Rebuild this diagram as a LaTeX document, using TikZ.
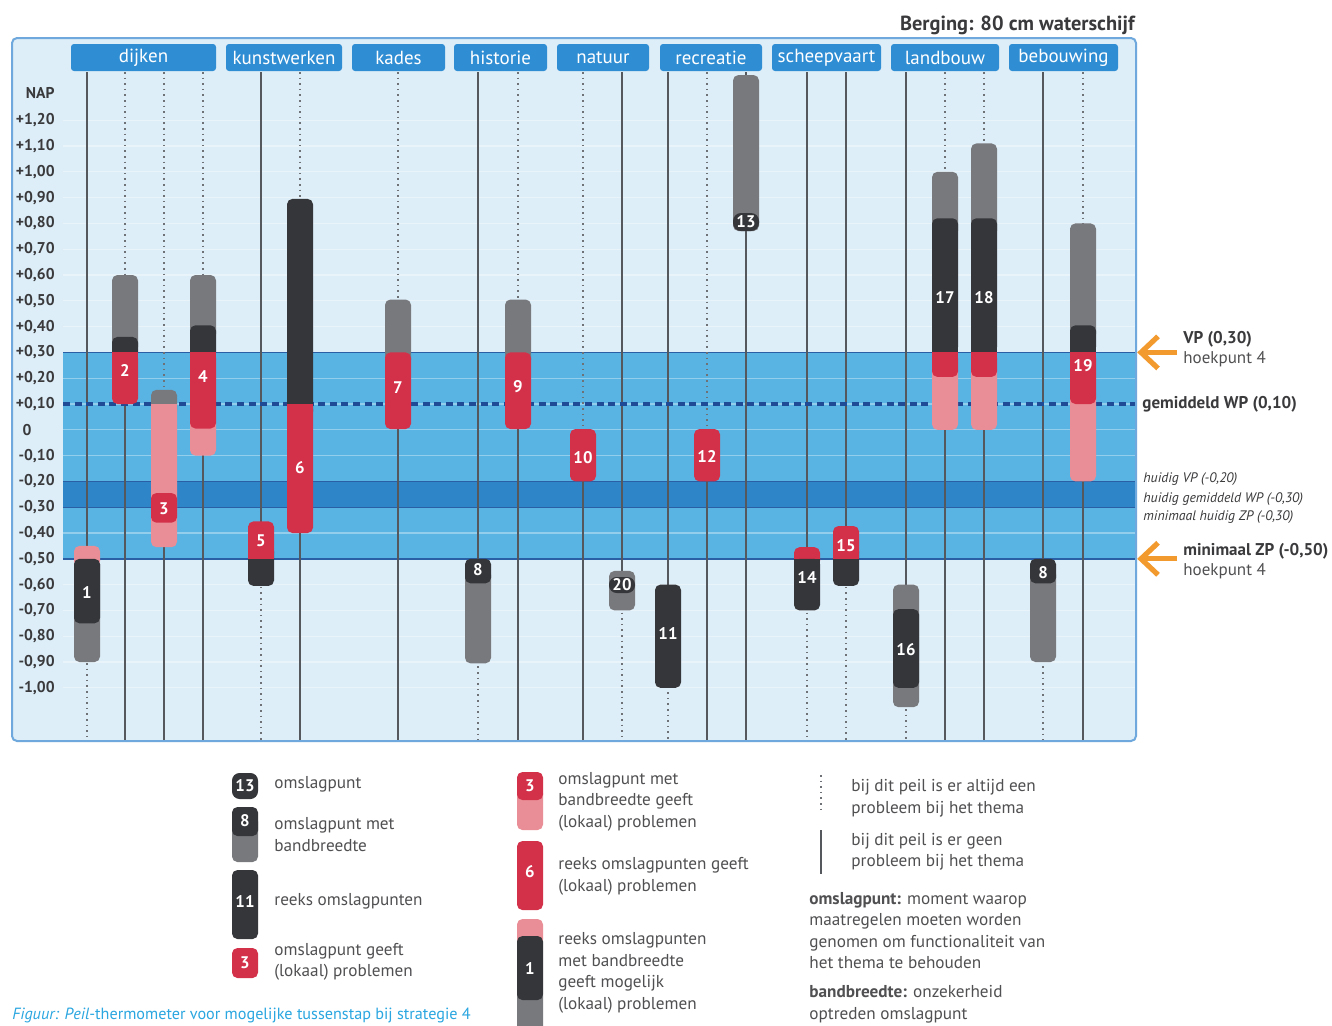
\documentclass[tikz,border=0pt]{standalone}
\usepackage{fontspec}
\setmainfont{PT Sans}
\definecolor{bgl}{HTML}{DDEEF8}
\definecolor{framec}{HTML}{6FA8DC}
\definecolor{tabc}{HTML}{2F8DD3}
\definecolor{bandm}{HTML}{5AB4E3}
\definecolor{bandd}{HTML}{2E86C8}
\definecolor{bandline}{HTML}{2A5FA6}
\definecolor{wpline}{HTML}{1E4A96}
\definecolor{redc}{HTML}{D3304A}
\definecolor{pinkc}{HTML}{E98E96}
\definecolor{darkc}{HTML}{35363A}
\definecolor{grayc}{HTML}{78797D}
\definecolor{linec}{HTML}{55585D}
\definecolor{txt}{HTML}{3A3A3C}
\definecolor{txtl}{HTML}{505052}
\definecolor{orng}{HTML}{F39A2E}
\definecolor{capc}{HTML}{2AA6E0}
\newcommand\vy[1]{429.8-258*(#1)}
\newcommand\sg[6]{%
  \fill[#4, rounded corners=2.7pt] ({#1-13},{\vy{#2}}) rectangle ({#1+13},{\vy{#3}});
  \ifnum#5=1 \fill[#4] ({#1-13},{\vy{#2}}) rectangle ({#1+13},{\vy{((#2)+(#3))/2}});\fi
  \ifnum#6=1 \fill[#4] ({#1-13},{\vy{((#2)+(#3))/2}}) rectangle ({#1+13},{\vy{#3}});\fi}
\newcommand\colln[4]{\draw[#2] (#1,72) -- (#1,{\vy{#4}}); \draw[#3] (#1,{\vy{#4}}) -- (#1,740);}
\newcommand\lgbar[4]{\fill[#4, rounded corners=2.7pt] ({#1-13},#2) rectangle ({#1+13},#3);}
\begin{document}
\begin{tikzpicture}[x=0.5pt,y=-0.5pt,
  tab/.style={fill=tabc, rounded corners=1.5pt, text=white, font=\fontsize{9.5}{10}\selectfont, minimum height=13.5pt, inner sep=0pt},
  ax/.style={font=\bfseries\fontsize{7.8}{9}\selectfont, text=txt, inner sep=0pt, anchor=east},
  num/.style={font=\bfseries\fontsize{8.4}{9}\selectfont, text=white, inner sep=0pt},
  sol/.style={draw=linec, line width=0.6pt},
  dotl/.style={draw=linec!85, line width=0.75pt, dash pattern=on 0.8pt off 2pt},
  leg/.style={font=\fontsize{8.6}{10.75}\selectfont, text=txtl, align=left, anchor=west, inner sep=0pt},
  rlab/.style={font=\bfseries\fontsize{8.5}{10}\selectfont, text=txt, anchor=west, inner sep=0pt},
  rsub/.style={font=\fontsize{8.5}{10}\selectfont, text=txtl, anchor=west, inner sep=0pt},
  ilab/.style={font=\itshape\fontsize{6.9}{8}\selectfont, text=txt, anchor=west, inner sep=0pt},
  oarrow/.style={draw=orng, line width=2.6pt},
]
\useasboundingbox (0,0) rectangle (1332,1025);
\fill[white] (0,0) rectangle (1332,1025);

% chart background and bands
\fill[bgl, rounded corners=2.5pt] (12,38) rectangle (1136,741);
\fill[bandm] (63,{\vy{0.3}}) rectangle (1135,{\vy{-0.5}});
\fill[bandd] (63,{\vy{-0.2}}) rectangle (1135,{\vy{-0.3}});
\foreach \k in {-10,...,12} \draw[white, opacity=0.35, line width=0.6pt] (63,{\vy{\k/10}}) -- (1135,{\vy{\k/10}});
\foreach \v in {0.3,-0.5} \draw[bandline, line width=0.7pt] (63,{\vy{\v}}) -- (1135,{\vy{\v}});
\foreach \v in {-0.2,-0.3} \draw[bandline, line width=0.5pt] (63,{\vy{\v}}) -- (1135,{\vy{\v}});

% axis labels
\node[ax] (nap) at (55,93) {NAP};
\foreach \v/\t [count=\i] in {1.2/{+1,20},1.1/{+1,10},1.0/{+1,00},0.9/{+0,90},0.8/{+0,80},0.7/{+0,70},0.6/{+0,60},0.5/{+0,50},0.4/{+0,40},0.3/{+0,30},0.2/{+0,20},0.1/{+0,10}}
  \node[ax] (axp\i) at (55,{\vy{\v}}) {\t};
\node[ax, anchor=center] (ax0) at (27,{\vy{0}}) {0};
\foreach \v/\t [count=\i] in {-0.1/{-0,10},-0.2/{-0,20},-0.3/{-0,30},-0.4/{-0,40},-0.5/{-0,50},-0.6/{-0,60},-0.7/{-0,70},-0.8/{-0,80},-0.9/{-0,90},-1.0/{-1,00}}
  \node[ax] (axm\i) at (55,{\vy{\v}}) {\t};

% column lines
\colln{87}{sol}{dotl}{-0.6}
\colln{125}{dotl}{sol}{0.3}
\colln{164}{dotl}{sol}{0.0}
\colln{203}{dotl}{sol}{0.2}
\colln{261}{sol}{dotl}{-0.5}
\colln{300}{dotl}{sol}{0.2}
\colln{398}{dotl}{sol}{0.2}
\colln{478}{sol}{dotl}{-0.7}
\colln{518}{dotl}{sol}{0.2}
\colln{583}{dotl}{sol}{-0.1}
\colln{622}{sol}{dotl}{-0.6}
\colln{668}{sol}{dotl}{-0.8}
\colln{707}{dotl}{sol}{-0.1}
\colln{746}{sol}{sol}{1.0}
\colln{807}{sol}{dotl}{-0.6}
\colln{846}{sol}{dotl}{-0.5}
\colln{906}{sol}{dotl}{-0.8}
\colln{945}{dotl}{sol}{0.5}
\colln{984}{dotl}{sol}{0.5}
\colln{1043}{sol}{dotl}{-0.7}
\colln{1083}{dotl}{sol}{0.3}

% WP line
\draw[wpline, line width=2pt, dash pattern=on 3.5pt off 2.3pt] (63,{\vy{0.1}}) -- (1135,{\vy{0.1}});

% bars
\sg{87}{-0.50}{-0.90}{grayc}{0}{0}
\sg{87}{-0.45}{-0.53}{pinkc}{0}{0}
\sg{87}{-0.50}{-0.75}{darkc}{0}{0}
\node[num] (b1) at (87,{\vy{-0.63}}) {1};

\sg{125}{0.60}{0.30}{grayc}{0}{0}
\sg{125}{0.36}{0.28}{darkc}{0}{0}
\sg{125}{0.30}{0.10}{redc}{1}{0}
\node[num] (b2) at (125,{\vy{0.228}}) {2};

\sg{164}{0.155}{0.05}{grayc}{0}{0}
\sg{164}{0.10}{-0.455}{pinkc}{1}{0}
\sg{164}{-0.245}{-0.36}{redc}{0}{0}
\node[num] (b3) at (164,{\vy{-0.305}}) {3};

\sg{203}{0.60}{0.35}{grayc}{0}{0}
\sg{203}{0.05}{-0.10}{pinkc}{0}{0}
\sg{203}{0.405}{0.28}{darkc}{0}{0}
\sg{203}{0.30}{0.005}{redc}{1}{0}
\node[num] (b4) at (203,{\vy{0.205}}) {4};

\sg{261}{-0.45}{-0.605}{darkc}{0}{0}
\sg{261}{-0.355}{-0.50}{redc}{0}{1}
\node[num] (b5) at (261,{\vy{-0.43}}) {5};

\sg{300}{0.895}{0.05}{darkc}{0}{0}
\sg{300}{0.10}{-0.40}{redc}{1}{0}
\node[num] (b6) at (300,{\vy{-0.148}}) {6};

\sg{398}{0.505}{0.25}{grayc}{0}{0}
\sg{398}{0.30}{0.003}{redc}{0}{0}
\node[num] (b7) at (398,{\vy{0.162}}) {7};

\sg{478}{-0.54}{-0.905}{grayc}{0}{0}
\sg{478}{-0.50}{-0.595}{darkc}{0}{0}
\node[num] (b8) at (478,{\vy{-0.543}}) {8};

\sg{518}{0.505}{0.25}{grayc}{0}{0}
\sg{518}{0.30}{0.003}{redc}{0}{0}
\node[num] (b9) at (518,{\vy{0.166}}) {9};

\sg{583}{0.003}{-0.20}{redc}{0}{0}
\node[num] (b10) at (583,{\vy{-0.109}}) {10};

\sg{622}{-0.547}{-0.70}{grayc}{0}{0}
\fill[darkc, rounded corners=3.8pt] (609,577) rectangle (635,593);
\node[num] (b20) at (622,585) {20};

\sg{668}{-0.60}{-1.00}{darkc}{0}{0}
\node[num] (b11) at (668,{\vy{-0.79}}) {11};

\sg{707}{0.003}{-0.20}{redc}{0}{0}
\node[num] (b12) at (707,{\vy{-0.105}}) {12};

\sg{746}{1.375}{0.7705}{grayc}{0}{0}
\fill[darkc, rounded corners=4pt] (733,213) rectangle (759,231);
\node[num] (b13) at (746,222) {13};

\sg{807}{-0.455}{-0.53}{redc}{0}{0}
\sg{807}{-0.50}{-0.70}{darkc}{1}{0}
\node[num] (b14) at (807,{\vy{-0.574}}) {14};

\sg{846}{-0.45}{-0.605}{darkc}{0}{0}
\sg{846}{-0.373}{-0.50}{redc}{0}{1}
\node[num] (b15) at (846,{\vy{-0.45}}) {15};

\sg{906}{-0.60}{-1.075}{grayc}{0}{0}
\sg{906}{-0.695}{-1.0}{darkc}{0}{0}
\node[num] (b16) at (906,{\vy{-0.853}}) {16};

\sg{945}{1.0}{0.75}{grayc}{0}{0}
\sg{945}{0.25}{0.00}{pinkc}{0}{0}
\sg{945}{0.82}{0.30}{darkc}{0}{1}
\sg{945}{0.30}{0.205}{redc}{1}{0}
\node[num] (b17) at (945,{\vy{0.514}}) {17};

\sg{984}{1.11}{0.75}{grayc}{0}{0}
\sg{984}{0.25}{0.00}{pinkc}{0}{0}
\sg{984}{0.82}{0.30}{darkc}{0}{1}
\sg{984}{0.30}{0.205}{redc}{1}{0}
\node[num] (b18) at (984,{\vy{0.514}}) {18};

\sg{1043}{-0.54}{-0.90}{grayc}{0}{0}
\sg{1043}{-0.50}{-0.595}{darkc}{0}{0}
\node[num] (b8b) at (1043,{\vy{-0.552}}) {8};

\sg{1083}{0.80}{0.35}{grayc}{0}{0}
\sg{1083}{0.15}{-0.20}{pinkc}{0}{0}
\sg{1083}{0.405}{0.30}{darkc}{0}{1}
\sg{1083}{0.30}{0.10}{redc}{1}{0}
\node[num] (b19) at (1083,{\vy{0.247}}) {19};

% frame
\draw[framec, line width=1pt, rounded corners=2.5pt] (12,38) rectangle (1136,741);

% tabs
\node[tab, minimum width=72.5pt] (t1) at (143.5,57.5) {dijken};
\node[tab, minimum width=58pt] (t2) at (284,57.5) {kunstwerken};
\node[tab, minimum width=46.5pt] (t3) at (398.5,57.5) {kades};
\node[tab, minimum width=46.5pt] (t4) at (500.5,57.5) {historie};
\node[tab, minimum width=46pt] (t5) at (603,57.5) {natuur};
\node[tab, minimum width=51pt] (t6) at (711,57.5) {recreatie};
\node[tab, minimum width=54.5pt] (t7) at (826.5,57.5) {scheepvaart};
\node[tab, minimum width=54pt] (t8) at (945,57.5) {landbouw};
\node[tab, minimum width=54.5pt] (t9) at (1063.5,57.5) {bebouwing};

% title
\node[font=\bfseries\fontsize{10.2}{12}\selectfont, text=txt, anchor=east, inner sep=0pt] (title) at (1135,25) {Berging: 80 cm waterschijf};

% right labels
\coordinate (vpc) at (1141,{\vy{0.3}});
\coordinate (zpc) at (1141,{\vy{-0.5}});
\draw[oarrow] (1177,{\vy{0.3}}) -- (vpc);
\draw[oarrow, line join=miter] (1158,{\vy{0.3}-16}) -- (vpc) -- (1158,{\vy{0.3}+16});
\draw[oarrow] (1177,{\vy{-0.5}}) -- (zpc);
\draw[oarrow, line join=miter] (1158,{\vy{-0.5}-16}) -- (zpc) -- (1158,{\vy{-0.5}+16});
\node[rlab] (vp) at (1183,339) {VP (0,30)};
\node[rsub] (vph) at (1183,359) {hoekpunt 4};
\node[rlab] (wp) at (1142,404) {gemiddeld WP (0,10)};
\node[ilab] (i1) at (1143,479) {huidig VP (-0,20)};
\node[ilab] (i2) at (1143,499) {huidig gemiddeld WP (-0,30)};
\node[ilab] (i3) at (1143,517) {minimaal huidig ZP (-0,30)};
\node[rlab] (zp) at (1183,551) {minimaal ZP (-0,50)};
\node[rsub] (zph) at (1183,571) {hoekpunt 4};

% legend column 1
\fill[darkc, rounded corners=3.8pt] (232,773) rectangle (258,799);
\node[num] (l13) at (245,786) {13};
\lgbar{245}{816}{862}{grayc}
\lgbar{245}{807}{836}{darkc}
\node[num] (l8) at (245,821) {8};
\lgbar{245}{870}{939}{darkc}
\node[num] (l11) at (245,901) {11};
\lgbar{245}{948}{978}{redc}
\node[num] (l3) at (245,963) {3};
\node[leg] (lt1) at (274,784) {omslagpunt};
\node[leg] (lt2) at (274,834.5) {omslagpunt met\\bandbreedte};
\node[leg] (lt3) at (274,901) {reeks omslagpunten};
\node[leg] (lt4) at (274,962) {omslagpunt geeft\\(lokaal) problemen};

% legend column 2
\lgbar{530}{788}{830}{pinkc}
\lgbar{530}{772}{800}{redc}
\node[num] (m3) at (530,786) {3};
\lgbar{530}{841}{910}{redc}
\node[num] (m6) at (530,872) {6};
\lgbar{530}{990}{1045}{grayc}
\lgbar{530}{919}{945}{pinkc}
\lgbar{530}{936}{1000}{darkc}
\node[num] (m1) at (530,968) {1};
\node[leg] (mt1) at (558,801.5) {omslagpunt met\\bandbreedte geeft\\(lokaal) problemen};
\node[leg] (mt2) at (558,876.5) {reeks omslagpunten geeft\\(lokaal) problemen};
\node[leg] (mt3) at (558,973) {reeks omslagpunten\\met bandbreedte\\geeft mogelijk\\(lokaal) problemen};

% legend column 3
\draw[dotl] (821,775) -- (821,813);
\draw[sol] (821,830) -- (821,874);
\node[leg] (rt1) at (851,798) {bij dit peil is er altijd een\\probleem bij het thema};
\node[leg] (rt2) at (851,851.5) {bij dit peil is er geen\\probleem bij het thema};
\node[leg] (rt3) at (809,930.5) {\textbf{omslagpunt:} moment waarop\\maatregelen moeten worden\\genomen om functionaliteit van\\het thema te behouden};
\node[leg] (rt4) at (809,1004) {\textbf{bandbreedte:} onzekerheid\\optreden omslagpunt};

% caption
\node[font=\fontsize{8.1}{9}\selectfont, text=capc, anchor=west, inner sep=0pt] (cap) at (12,1015) {\textit{Figuur: Peil}-thermometer voor mogelijke tussenstap bij strategie 4};
\end{tikzpicture}
\end{document}
